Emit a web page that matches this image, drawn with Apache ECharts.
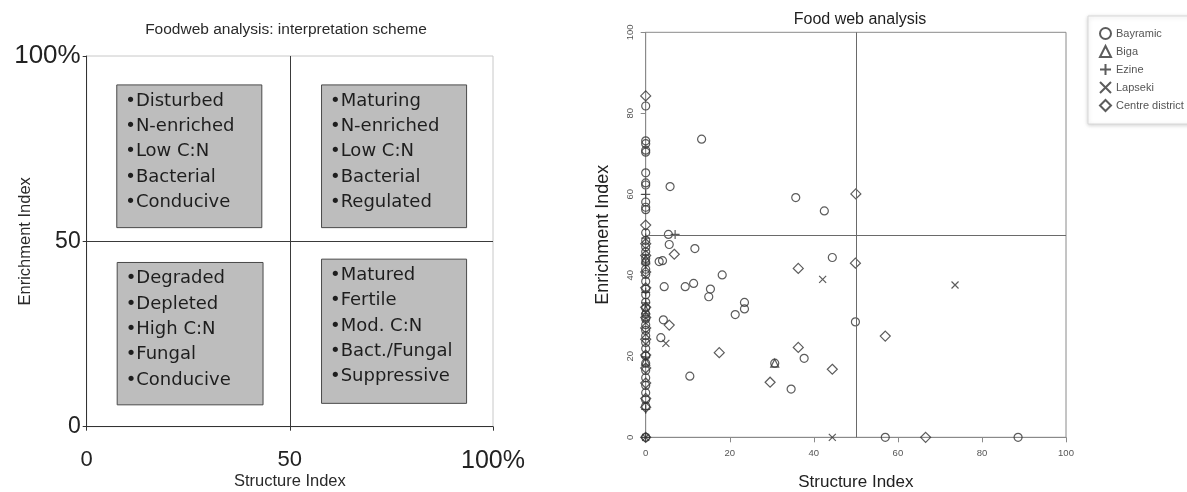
<!DOCTYPE html>
<html>
<head>
<meta charset="utf-8">
<title>Food web analysis</title>
<script src="https://cdn.jsdelivr.net/npm/echarts@6/dist/echarts.min.js"></script>
<style>
  html, body { margin: 0; padding: 0; background: #fff; }
  #main { width: 1187px; height: 492px; }
</style>
</head>
<body>
<div id="main"></div>
<script>
// left panel: interpretation scheme
const schemeTicks = [0, 50, 100]
const schemeTickLabels = ['0', '50', '100%']
const boxTopLeft = ['•Disturbed', '•N-enriched', '•Low C:N', '•Bacterial', '•Conducive']
const boxTopRight = ['•Maturing', '•N-enriched', '•Low C:N', '•Bacterial', '•Regulated']
const boxBottomLeft = ['•Degraded', '•Depleted', '•High C:N', '•Fungal', '•Conducive']
const boxBottomRight = ['•Matured', '•Fertile', '•Mod. C:N', '•Bact./Fungal', '•Suppressive']

// right panel: [structure index, enrichment index]
const districts = ['Bayramic', 'Biga', 'Ezine', 'Lapseki', 'Centre district']
const bayramic = [
  [13.3, 73.6], [5.8, 61.9], [35.7, 59.2], [42.5, 55.9], [5.4, 50.1], [5.6, 47.6], [11.7, 46.6],
  [3.2, 43.4], [4.0, 43.6], [18.2, 40.1], [4.4, 37.2], [9.4, 37.2], [11.4, 38.0], [15.4, 36.6],
  [15.0, 34.7], [23.5, 33.3], [23.5, 31.7], [21.3, 30.3], [4.2, 29.0], [3.6, 24.6], [10.5, 15.1],
  [44.4, 44.4], [49.9, 28.5], [37.7, 19.5], [30.7, 18.3], [34.6, 11.9], [57.0, 0], [88.6, 0],
  [0, 81.8], [0, 73.2], [0, 72.5], [0, 70.9], [0, 70.4], [0, 65.3], [0, 62.8], [0, 62.3],
  [0, 58.1], [0, 56.8], [0, 56.2], [0, 50.5], [0, 48.6], [0, 47.0], [0, 45.8], [0, 44.2],
  [0, 43.3], [0, 41.5], [0, 40.2], [0, 38.5], [0, 36.6], [0, 35.2], [0, 33.4], [0, 31.9],
  [0, 30.4], [0, 29.2], [0, 27.8], [0, 26.4], [0, 25.1], [0, 23.4], [0, 21.9], [0, 20.1],
  [0, 18.3], [0, 16.5], [0, 14.7], [0, 12.8], [0, 11.0], [0, 9.3], [0, 7.7], [0, 0]
]
const biga = [[30.7, 18.3], [0, 44.0], [0, 31.5], [0, 18.8]]
const ezine = [[0, 60.0], [7.0, 50.1], [0, 49.2], [0, 42.6], [0, 35.8], [0, 33.2], [0, 19.8], [0, 6.9], [0, 0]]
const lapseki = [[42.1, 39.0], [73.6, 37.6], [44.4, 0], [4.8, 23.2], [0, 29.5], [0, 0]]
const centre = [
  [0, 84.3], [50.0, 60.1], [0, 52.4], [6.8, 45.2], [5.6, 27.7], [17.5, 20.9], [36.3, 41.7],
  [49.9, 43.0], [57.0, 25.0], [36.3, 22.2], [29.6, 13.6], [44.4, 16.8], [66.6, 0], [0, 0],
  [0, 47.8], [0, 44.9], [0, 40.8], [0, 36.9], [0, 32.1], [0, 29.6], [0, 27.0], [0, 24.2],
  [0, 20.3], [0, 17.1], [0, 13.4], [0, 9.6], [0, 7.4]
]

const myChart = echarts.init(document.getElementById('main'))

const schemeLabel = v => {
  const s = schemeTickLabels[schemeTicks.indexOf(v)]
  return s === '100%' ? '{big|' + s + '}' : '{mid|' + s + '}'
}

// one box of text per quadrant, drawn as a mark area
const box = (lines, x0, y0, x1, y1) => [
  {
    name: lines.join('\n'),
    xAxis: x0,
    yAxis: y0,
    label: {
      show: true,
      position: 'insideTopLeft',
      distance: 0,
      padding: [4, 0, 0, 9],
      formatter: '{b}',
      fontFamily: 'DejaVu Sans',
      fontSize: 18,
      lineHeight: 25.3,
      color: '#1e1e1e'
    }
  },
  { xAxis: x1, yAxis: y1 }
]

const marker = (name, data, symbol, size) => ({
  name: name,
  type: 'scatter',
  xAxisIndex: 1,
  yAxisIndex: 1,
  symbol: symbol,
  symbolSize: size,
  data: data,
  itemStyle: { color: 'transparent', borderColor: '#333', borderWidth: 1.2 }
})

const option = {
  animation: false,
  textStyle: { fontFamily: 'Liberation Sans' },
  title: [
    {
      text: 'Foodweb analysis: interpretation scheme',
      left: 281, top: 17, textAlign: 'center',
      textStyle: { fontSize: 15.5, fontWeight: 'normal', color: '#2a2a2a' }
    },
    {
      text: 'Food web analysis',
      left: 855, top: 7, textAlign: 'center',
      textStyle: { fontSize: 16, fontWeight: 'normal', color: '#1e1e1e' }
    }
  ],
  legend: {
    data: districts,
    orient: 'vertical',
    left: 1088,
    top: 16,
    padding: [11, 60, 12, 11],
    itemWidth: 11,
    itemHeight: 11,
    itemGap: 5,
    backgroundColor: '#fff',
    borderColor: '#d8d8d8',
    borderWidth: 1,
    shadowBlur: 4,
    shadowColor: 'rgba(0,0,0,0.18)',
    shadowOffsetY: 1,
    textStyle: { fontSize: 11, color: '#555', padding: [0, 0, 0, 0] }
  },
  grid: [
    {
      left: 86.7, top: 56, width: 406.3, height: 370.7, outerBoundsMode: 'none',
      show: true, borderColor: '#c8c8c8', borderWidth: 1
    },
    {
      left: 645.7, top: 32.3, width: 420.3, height: 405, outerBoundsMode: 'none',
      show: true, borderColor: '#8a8a8a', borderWidth: 1
    }
  ],
  xAxis: [
    {
      gridIndex: 0, type: 'value', min: 0, max: 100, interval: 50,
      name: 'Structure Index', nameLocation: 'middle', nameGap: 46, nameMoveOverlap: false,
      nameTextStyle: { fontSize: 16.5, color: '#2a2a2a' },
      axisLine: { show: true, lineStyle: { color: '#333' } },
      axisTick: { show: true, length: 4, lineStyle: { color: '#333' } },
      splitLine: { show: false },
      axisLabel: {
        margin: 22, color: '#222', formatter: schemeLabel,
        rich: { big: { fontSize: 25, color: '#222' }, mid: { fontSize: 22, color: '#222' } }
      }
    },
    {
      gridIndex: 1, type: 'value', min: 0, max: 100, interval: 20,
      name: 'Structure Index', nameLocation: 'middle', nameGap: 37, nameMoveOverlap: false,
      nameTextStyle: { fontSize: 17, color: '#222' },
      axisLine: { show: true, lineStyle: { color: '#8a8a8a' } },
      axisTick: { show: true, length: 5, lineStyle: { color: '#8a8a8a' } },
      splitLine: { show: false },
      axisLabel: { margin: 11, fontSize: 9.5, color: '#555' }
    }
  ],
  yAxis: [
    {
      gridIndex: 0, type: 'value', min: 0, max: 100, interval: 50,
      name: 'Enrichment Index', nameLocation: 'middle', nameGap: 53, nameMoveOverlap: false,
      nameTextStyle: { fontSize: 16.5, color: '#2a2a2a' },
      axisLine: { show: true, lineStyle: { color: '#333' } },
      axisTick: { show: true, length: 4, lineStyle: { color: '#333' } },
      splitLine: { show: false },
      axisLabel: {
        margin: 6, color: '#222', formatter: schemeLabel,
        rich: { big: { fontSize: 26, color: '#222' }, mid: { fontSize: 23, color: '#222' } }
      }
    },
    {
      gridIndex: 1, type: 'value', min: 0, max: 100, interval: 20,
      name: 'Enrichment Index', nameLocation: 'middle', nameGap: 34, nameMoveOverlap: false,
      nameTextStyle: { fontSize: 18, color: '#222' },
      axisLine: { show: true, lineStyle: { color: '#8a8a8a' } },
      axisTick: { show: true, length: 5, lineStyle: { color: '#8a8a8a' } },
      splitLine: { show: false },
      axisLabel: { margin: 10, rotate: 90, fontSize: 9.5, color: '#555' }
    }
  ],
  series: [
    {
      type: 'scatter',
      xAxisIndex: 0,
      yAxisIndex: 0,
      data: [],
      silent: true,
      markArea: {
        silent: true,
        itemStyle: { color: '#bdbdbd', borderColor: '#4a4a4a', borderWidth: 1 },
        data: [
          box(boxTopLeft, 7.4, 92.2, 43.1, 53.7),
          box(boxTopRight, 57.8, 92.2, 93.5, 53.7),
          box(boxBottomLeft, 7.5, 44.3, 43.4, 5.9),
          box(boxBottomRight, 57.8, 45.2, 93.5, 6.3)
        ]
      },
      markLine: {
        silent: true,
        symbol: ['none', 'none'],
        label: { show: false },
        lineStyle: { color: '#3a3a3a', type: 'solid', width: 1 },
        data: [{ xAxis: 50 }, { yAxis: 50 }]
      }
    },
    {
      type: 'scatter',
      xAxisIndex: 1,
      yAxisIndex: 1,
      data: [],
      silent: true,
      markLine: {
        silent: true,
        symbol: ['none', 'none'],
        label: { show: false },
        lineStyle: { color: '#6a6a6a', type: 'solid', width: 1 },
        data: [{ xAxis: 50 }, { yAxis: 50 }]
      }
    },
    marker('Bayramic', bayramic, 'circle', 8),
    marker('Biga', biga, 'triangle', 8),
    marker('Ezine', ezine, 'path://M0,5L10,5M5,0L5,10', 9),
    marker('Lapseki', lapseki, 'path://M0,0L10,10M10,0L0,10', 7),
    marker('Centre district', centre, 'diamond', 10)
  ]
}

myChart.setOption(option)
window.addEventListener('resize', function () {
  myChart.resize()
})
</script>
</body>
</html>
